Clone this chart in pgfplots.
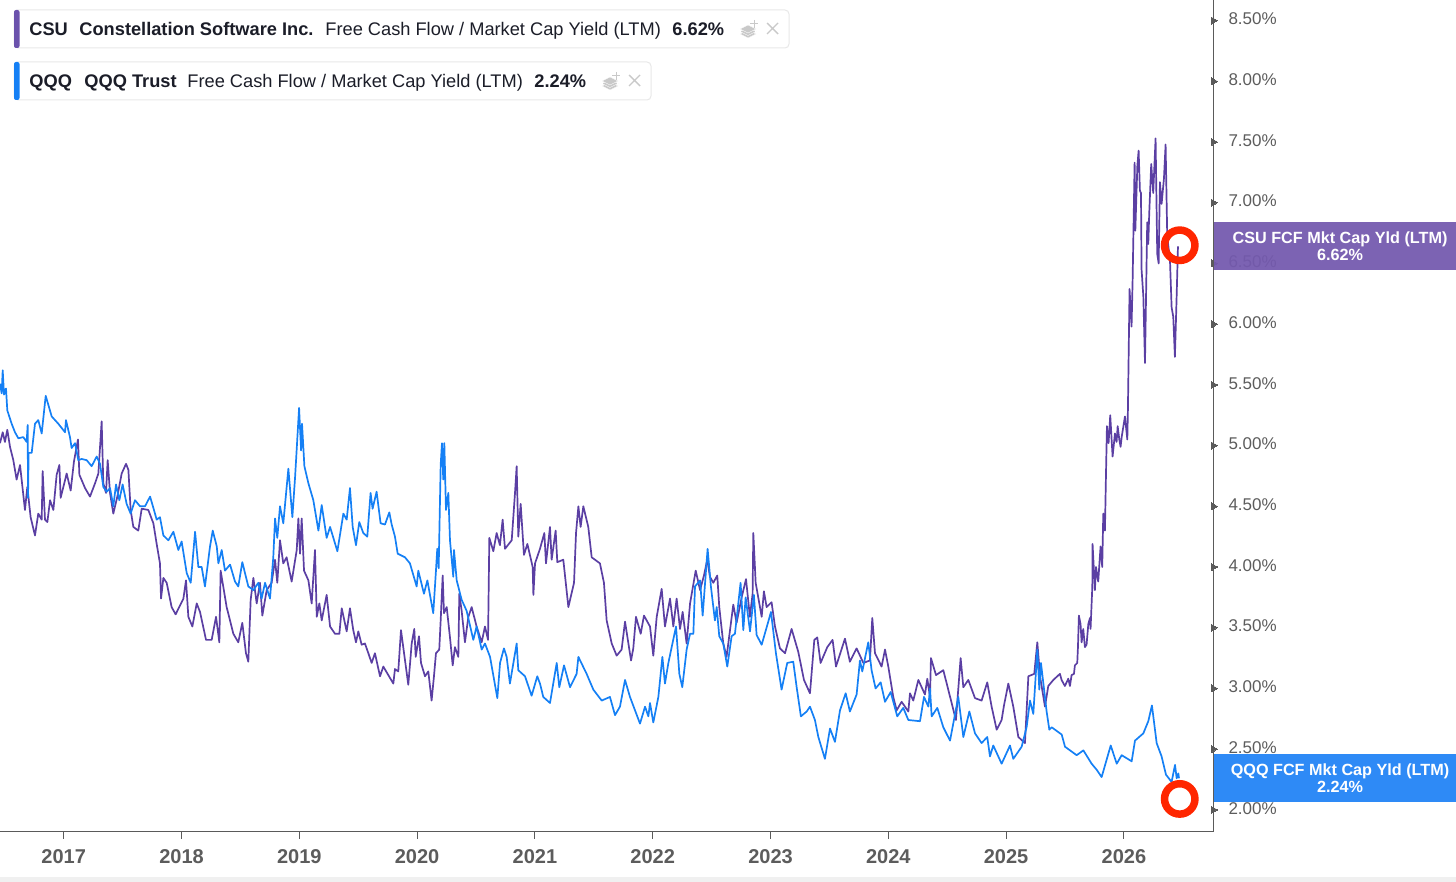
\documentclass[border=0pt]{standalone}
\usepackage{fontspec}
\setmainfont{Liberation Sans}
\usepackage{pgfplots}
\pgfplotsset{compat=1.18}
\definecolor{csuline}{HTML}{5B3FA3}
\definecolor{qqqline}{HTML}{1580F5}
\definecolor{csubox}{HTML}{7459AE}
\definecolor{qqqbox}{HTML}{2E8AF6}
\definecolor{ticktxt}{HTML}{5C5C5C}
\definecolor{axisln}{HTML}{5A5A5A}
\definecolor{ringred}{HTML}{FF2600}
\definecolor{legtxt}{HTML}{1B1D28}
\definecolor{iconc}{HTML}{C9C9C9}
\begin{document}
\begin{tikzpicture}
\useasboundingbox (0,0) rectangle (728pt,-441pt);
\begin{axis}[
    at={(0,-415.85pt)}, anchor=south west,
    scale only axis, width=606.65pt, height=415.85pt,
    xmin=2016.459, xmax=2026.759,
    ymin=1.80, ymax=8.65,
    axis x line=bottom, axis y line=right,
    axis line style={axisln, line width=0.55pt, -},
    xtick={2017,2018,2019,2020,2021,2022,2023,2024,2025,2026},
    ytick={2,2.5,3,3.5,4,4.5,5,5.5,6,6.5,7,7.5,8,8.5},
    tick align=outside,
    major tick length=3.5pt,
    x tick style={axisln, line width=0.5pt},
    y tick style={draw=none},
    /pgf/number format/assume math mode=true,
    x tick label style={/pgf/number format/1000 sep={}, font=\fontsize{10}{12}\selectfont\bfseries, text=ticktxt, yshift=-2pt},
    y tick label style={font=\fontsize{8.5}{10}\selectfont, text=ticktxt, xshift=0.6pt, yshift=-0.4pt},
    yticklabel={\pgfmathprintnumber[fixed,fixed zerofill,precision=2]{\tick}\%},
    clip mode=individual,
]
% CSU
\addplot[csuline, line width=0.85pt, line join=round] coordinates {
(2016.459,5.00)(2016.482,5.09)(2016.501,5.01)(2016.521,5.11)(2016.544,4.97)(2016.572,4.86)(2016.600,4.70)(2016.629,4.82)(2016.671,4.45)(2016.691,4.64)
(2016.719,4.39)(2016.756,4.24)(2016.784,4.42)(2016.813,4.37)(2016.821,4.77)(2016.841,4.37)(2016.861,4.35)(2016.884,4.53)(2016.912,4.45)(2016.940,4.74)
(2016.963,4.82)(2016.974,4.55)(2017.025,4.75)(2017.059,4.61)(2017.087,4.85)(2017.121,5.03)(2017.133,4.74)(2017.181,4.63)(2017.223,4.56)(2017.266,4.67)
(2017.294,4.75)(2017.322,5.18)(2017.336,4.67)(2017.359,4.59)(2017.373,4.86)(2017.393,4.59)(2017.421,4.42)(2017.455,4.56)(2017.492,4.75)(2017.529,4.83)
(2017.549,4.78)(2017.568,4.45)(2017.591,4.31)(2017.633,4.28)(2017.662,4.46)(2017.718,4.45)(2017.761,4.34)(2017.789,4.17)(2017.817,4.01)(2017.826,3.72)
(2017.846,3.89)(2017.874,3.85)(2017.916,3.65)(2017.950,3.59)(2018.016,3.72)(2018.038,3.87)(2018.058,3.57)(2018.092,3.49)(2018.129,3.68)(2018.157,3.61)
(2018.208,3.38)(2018.256,3.38)(2018.293,3.57)(2018.321,3.36)(2018.332,3.95)(2018.383,3.65)(2018.440,3.43)(2018.482,3.36)(2018.516,3.52)(2018.547,3.27)
(2018.567,3.20)(2018.587,3.71)(2018.610,3.89)(2018.638,3.68)(2018.666,3.85)(2018.686,3.58)(2018.723,3.79)(2018.765,3.85)(2018.794,4.04)(2018.813,3.85)
(2018.836,4.20)(2018.864,4.01)(2018.892,4.06)(2018.935,3.86)(2018.978,4.12)(2018.992,4.38)(2019.006,4.09)(2019.020,4.38)(2019.040,3.95)(2019.077,3.87)
(2019.105,3.68)(2019.133,4.12)(2019.148,3.57)(2019.170,3.68)(2019.190,3.54)(2019.232,3.75)(2019.261,3.49)(2019.303,3.43)(2019.340,3.43)(2019.360,3.64)
(2019.402,3.45)(2019.430,3.64)(2019.458,3.46)(2019.481,3.36)(2019.501,3.45)(2019.529,3.34)(2019.557,3.35)(2019.586,3.27)(2019.614,3.19)(2019.642,3.27)
(2019.685,3.08)(2019.713,3.16)(2019.798,3.02)(2019.812,3.14)(2019.840,3.12)(2019.863,3.46)(2019.925,3.01)(2019.954,3.35)(2019.976,3.47)(2019.988,3.24)
(2020.016,3.41)(2020.033,3.19)(2020.067,3.08)(2020.095,3.12)(2020.123,2.88)(2020.143,3.08)(2020.160,3.27)(2020.188,3.30)(2020.200,3.54)(2020.217,3.91)
(2020.228,3.60)(2020.251,3.65)(2020.279,3.40)(2020.302,3.17)(2020.321,3.32)(2020.350,3.24)(2020.358,3.76)(2020.378,3.62)(2020.406,3.36)(2020.435,3.57)
(2020.463,3.65)(2020.505,3.49)(2020.548,3.36)(2020.576,3.49)(2020.602,3.38)(2020.613,4.22)(2020.647,4.11)(2020.675,4.26)(2020.703,4.16)(2020.726,4.37)
(2020.746,4.13)(2020.803,4.20)(2020.831,4.59)(2020.845,4.81)(2020.859,4.23)(2020.879,4.50)(2020.907,4.08)(2020.936,4.17)(2020.981,3.98)(2020.987,3.75)
(2021.001,4.01)(2021.043,4.13)(2021.080,4.26)(2021.094,4.01)(2021.128,4.31)(2021.142,4.04)(2021.176,4.28)(2021.190,4.02)(2021.241,4.04)(2021.284,3.65)
(2021.332,3.85)(2021.349,4.26)(2021.369,4.48)(2021.388,4.31)(2021.411,4.48)(2021.453,4.31)(2021.482,4.06)(2021.552,4.01)(2021.586,3.85)(2021.609,3.54)
(2021.652,3.35)(2021.694,3.25)(2021.736,3.30)(2021.765,3.53)(2021.816,3.21)(2021.835,3.31)(2021.858,3.57)(2021.898,3.43)(2021.926,3.58)(2021.977,3.49)
(2022.005,3.25)(2022.034,3.57)(2022.076,3.80)(2022.104,3.49)(2022.147,3.72)(2022.175,3.49)(2022.203,3.72)(2022.232,3.47)(2022.254,3.61)(2022.288,3.35)
(2022.317,3.68)(2022.365,3.95)(2022.402,3.79)(2022.435,3.91)(2022.463,4.04)(2022.486,3.90)(2022.514,3.85)(2022.548,3.91)(2022.565,3.65)(2022.599,3.35)
(2022.627,3.24)(2022.684,3.67)(2022.712,3.52)(2022.755,3.73)(2022.792,3.88)(2022.825,3.57)(2022.848,3.76)(2022.854,4.26)(2022.874,3.85)(2022.925,3.57)
(2022.944,3.78)(2022.967,3.65)(2023.009,3.69)(2023.038,3.49)(2023.080,3.31)(2023.123,3.27)(2023.179,3.47)(2023.236,3.28)(2023.284,3.05)(2023.335,2.94)
(2023.372,3.38)(2023.397,3.40)(2023.425,3.19)(2023.482,3.32)(2023.527,3.38)(2023.556,3.16)(2023.632,3.39)(2023.674,3.20)(2023.731,3.31)(2023.788,3.19)
(2023.844,3.21)(2023.864,3.56)(2023.887,3.27)(2023.943,3.16)(2023.972,3.30)(2024.000,3.16)(2024.042,2.91)(2024.071,2.80)(2024.113,2.87)(2024.170,2.79)
(2024.184,2.94)(2024.212,2.88)(2024.255,3.05)(2024.311,2.93)(2024.331,3.06)(2024.354,2.91)(2024.362,3.23)(2024.405,3.09)(2024.467,3.13)(2024.509,2.97)
(2024.574,2.72)(2024.614,3.23)(2024.637,2.99)(2024.679,3.05)(2024.736,2.90)(2024.792,2.88)(2024.840,3.03)(2024.877,2.83)(2024.920,2.64)(2024.962,2.72)
(2024.982,2.84)(2025.019,3.02)(2025.061,2.83)(2025.104,2.58)(2025.160,2.53)(2025.189,3.08)(2025.239,3.10)(2025.265,3.36)(2025.288,3.08)(2025.330,2.83)
(2025.358,3.00)(2025.401,3.05)(2025.457,3.10)(2025.471,3.05)(2025.499,3.00)(2025.528,3.06)(2025.542,3.00)(2025.556,3.09)(2025.576,3.10)(2025.584,3.17)
(2025.604,3.19)(2025.610,3.32)(2025.618,3.58)(2025.632,3.51)(2025.641,3.36)(2025.655,3.47)(2025.669,3.32)(2025.683,3.34)(2025.698,3.51)(2025.712,3.56)
(2025.717,3.47)(2025.732,3.82)(2025.734,4.17)(2025.754,3.79)(2025.763,3.98)(2025.782,3.86)(2025.802,4.15)(2025.816,3.98)(2025.825,4.42)(2025.839,4.28)
(2025.848,4.75)(2025.856,5.14)(2025.870,5.00)(2025.884,5.23)(2025.904,4.89)(2025.924,5.08)(2025.938,5.01)(2025.947,5.14)(2025.961,5.03)(2025.972,4.97)
(2025.981,5.05)(2026.009,5.22)(2026.029,5.03)(2026.034,5.27)(2026.048,6.27)(2026.065,5.96)(2026.074,6.34)(2026.091,7.31)(2026.097,6.75)(2026.114,7.28)
(2026.125,7.41)(2026.136,7.08)(2026.145,7.06)(2026.150,6.43)(2026.165,6.21)(2026.179,5.66)(2026.198,6.82)(2026.207,6.64)(2026.215,6.89)(2026.232,7.30)
(2026.249,7.06)(2026.269,7.51)(2026.283,6.56)(2026.295,6.48)(2026.306,7.15)(2026.320,6.97)(2026.340,7.18)(2026.354,7.46)(2026.368,6.70)(2026.391,6.51)
(2026.405,6.12)(2026.419,6.04)(2026.433,5.71)(2026.448,6.22)(2026.459,6.62)
};
% QQQ
\addplot[qqqline, line width=0.85pt, line join=round] coordinates {
(2016.459,5.49)(2016.473,5.41)(2016.482,5.60)(2016.493,5.40)(2016.510,5.45)(2016.521,5.27)(2016.558,5.16)(2016.586,5.09)(2016.615,5.04)(2016.657,5.05)
(2016.685,5.01)(2016.694,5.15)(2016.697,4.55)(2016.702,4.92)(2016.728,4.92)(2016.756,5.16)(2016.784,5.19)(2016.813,5.08)(2016.847,5.39)(2016.898,5.22)
(2016.954,5.16)(2017.011,5.09)(2017.019,5.19)(2017.053,5.05)(2017.067,4.96)(2017.096,5.00)(2017.124,4.86)(2017.152,4.87)(2017.195,4.86)(2017.237,4.81)
(2017.280,4.89)(2017.308,4.83)(2017.336,4.64)(2017.365,4.60)(2017.393,4.63)(2017.421,4.48)(2017.444,4.66)(2017.472,4.53)(2017.500,4.66)(2017.534,4.50)
(2017.568,4.42)(2017.605,4.53)(2017.648,4.48)(2017.690,4.48)(2017.733,4.56)(2017.766,4.45)(2017.789,4.37)(2017.817,4.39)(2017.846,4.24)(2017.888,4.20)
(2017.931,4.27)(2017.973,4.12)(2018.001,4.19)(2018.044,3.93)(2018.078,3.85)(2018.115,4.27)(2018.143,3.98)(2018.171,3.98)(2018.199,3.82)(2018.242,4.15)
(2018.265,4.28)(2018.299,4.15)(2018.313,4.01)(2018.341,4.12)(2018.369,3.95)(2018.412,4.00)(2018.454,3.86)(2018.482,3.82)(2018.516,4.02)(2018.567,3.82)
(2018.610,3.79)(2018.652,3.85)(2018.680,3.72)(2018.709,3.85)(2018.751,3.72)(2018.779,4.06)(2018.794,4.38)(2018.813,4.22)(2018.836,4.48)(2018.864,4.34)
(2018.907,4.79)(2018.941,4.39)(2018.964,4.72)(2018.998,5.29)(2019.015,4.94)(2019.023,5.16)(2019.043,4.81)(2019.077,4.67)(2019.119,4.53)(2019.162,4.28)
(2019.190,4.49)(2019.232,4.22)(2019.261,4.31)(2019.323,4.11)(2019.374,4.42)(2019.402,4.37)(2019.430,4.63)(2019.453,4.31)(2019.481,4.16)(2019.509,4.35)
(2019.543,4.26)(2019.577,4.23)(2019.605,4.59)(2019.622,4.46)(2019.656,4.60)(2019.690,4.34)(2019.727,4.33)(2019.764,4.43)(2019.784,4.33)(2019.812,4.23)
(2019.835,4.09)(2019.897,4.06)(2019.939,4.01)(2019.996,3.82)(2020.010,3.95)(2020.058,3.76)(2020.087,3.87)(2020.137,3.60)(2020.160,3.95)(2020.171,4.13)
(2020.183,3.97)(2020.200,4.82)(2020.211,5.00)(2020.222,4.70)(2020.231,5.00)(2020.245,4.45)(2020.265,4.59)(2020.279,4.20)(2020.307,3.90)(2020.313,4.12)
(2020.336,3.87)(2020.378,3.71)(2020.420,3.62)(2020.477,3.38)(2020.505,3.49)(2020.548,3.30)(2020.576,3.35)(2020.619,3.24)(2020.681,2.90)(2020.704,3.19)
(2020.737,3.31)(2020.760,3.24)(2020.788,3.02)(2020.845,3.35)(2020.859,3.13)(2020.916,3.08)(2020.972,2.92)(2021.020,3.08)(2021.043,3.02)(2021.071,2.91)
(2021.128,2.86)(2021.185,3.19)(2021.207,2.99)(2021.247,3.17)(2021.298,2.99)(2021.354,3.10)(2021.369,3.24)(2021.439,3.10)(2021.496,2.97)(2021.567,2.88)
(2021.637,2.91)(2021.680,2.76)(2021.722,2.83)(2021.765,3.05)(2021.807,2.91)(2021.892,2.69)(2021.935,2.83)(2021.963,2.75)(2021.977,2.86)(2022.005,2.70)
(2022.048,2.91)(2022.082,3.24)(2022.104,3.02)(2022.133,3.19)(2022.161,3.32)(2022.198,3.49)(2022.226,3.10)(2022.251,2.99)(2022.288,3.30)(2022.317,3.43)
(2022.345,3.43)(2022.359,3.82)(2022.402,3.87)(2022.424,3.58)(2022.466,4.13)(2022.494,3.82)(2022.528,3.54)(2022.543,3.65)(2022.565,3.41)(2022.599,3.35)
(2022.633,3.16)(2022.670,3.41)(2022.698,3.43)(2022.746,3.85)(2022.769,3.46)(2022.789,3.73)(2022.826,3.45)(2022.859,3.75)(2022.882,3.42)(2022.925,3.34)
(2022.981,3.53)(2023.004,3.61)(2023.046,3.27)(2023.094,2.97)(2023.142,3.19)(2023.193,3.20)(2023.222,2.99)(2023.258,2.75)(2023.307,2.79)(2023.335,2.83)
(2023.377,2.72)(2023.406,2.58)(2023.462,2.40)(2023.505,2.65)(2023.547,2.54)(2023.590,2.80)(2023.638,2.94)(2023.674,2.79)(2023.731,2.93)(2023.759,3.21)
(2023.779,3.12)(2023.830,3.36)(2023.858,3.13)(2023.892,2.98)(2023.935,3.03)(2023.972,2.87)(2024.020,2.95)(2024.076,2.75)(2024.127,2.82)(2024.170,2.72)
(2024.269,2.71)(2024.303,2.91)(2024.340,2.83)(2024.354,2.98)(2024.368,2.75)(2024.416,2.82)(2024.467,2.66)(2024.524,2.55)(2024.594,2.91)(2024.637,2.58)
(2024.688,2.79)(2024.736,2.61)(2024.792,2.53)(2024.840,2.58)(2024.863,2.42)(2024.891,2.51)(2024.962,2.36)(2025.033,2.51)(2025.061,2.40)(2025.132,2.50)
(2025.174,2.66)(2025.203,2.88)(2025.231,2.77)(2025.265,3.30)(2025.282,2.97)(2025.296,3.19)(2025.344,2.79)(2025.367,2.64)(2025.387,2.66)(2025.472,2.60)
(2025.500,2.50)(2025.599,2.43)(2025.656,2.47)(2025.726,2.36)(2025.769,2.31)(2025.811,2.25)(2025.888,2.51)(2025.939,2.36)(2025.981,2.43)(2026.066,2.38)
(2026.094,2.55)(2026.165,2.61)(2026.207,2.71)(2026.238,2.84)(2026.278,2.53)(2026.320,2.42)(2026.357,2.27)(2026.405,2.21)(2026.434,2.35)(2026.448,2.24)
(2026.462,2.28)(2026.468,2.24)
};
% ticks on the right side
\addplot[only marks, mark=triangle*, mark size=2pt, color=axisln,
    mark options={rotate=-90, xshift=1.2pt, line width=0pt}] coordinates {
(2026.759,2)(2026.759,2.5)(2026.759,3)(2026.759,3.5)(2026.759,4)(2026.759,4.5)(2026.759,5)
(2026.759,5.5)(2026.759,6)(2026.759,6.5)(2026.759,7)(2026.759,7.5)(2026.759,8)(2026.759,8.5)
};
% last-value rings
\addplot[only marks, mark=o, mark size=7.6pt, mark options={draw=ringred, line width=3.75pt}] coordinates {
(2026.474,6.63)(2026.474,2.07)
};
\end{axis}
\begin{scope}[x=0.5pt, y=-0.5pt]
% bottom band
\fill[black!6] (0,877) rectangle (1456,882);
% value tags
\fill[csubox, opacity=0.94] (1213.5,222) rectangle (1456,270.5);
\fill[qqqbox] (1213.5,754) rectangle (1456,802);
\node[white, font=\fontsize{8.1}{8.6}\selectfont\bfseries, align=center] at (1340,246.5) {CSU FCF Mkt Cap Yld (LTM)\\6.62\%};
\node[white, font=\fontsize{8.1}{8.6}\selectfont\bfseries, align=center] at (1340,778.5) {QQQ FCF Mkt Cap Yld (LTM)\\2.24\%};
% legend boxes
\draw[black!9, fill=white, line width=0.5pt, rounded corners=2pt] (14,10) rectangle (789,48);
\fill[csuline!90!white, rounded corners=1pt] (14,10) rectangle (19.5,48);
\draw[black!9, fill=white, line width=0.5pt, rounded corners=2pt] (14,62) rectangle (651,100);
\fill[qqqline, rounded corners=1pt] (14,62) rectangle (19.5,100);
\tikzset{leg/.style={anchor=base west, inner sep=0pt, text=legtxt, font=\fontsize{9.12}{11}\selectfont}, legb/.style={leg, font=\fontsize{9.12}{11}\selectfont\bfseries}}
\node[legb] at (29,36) {CSU};
\node[legb] at (79,36) {Constellation Software Inc.};
\node[leg] at (325,36) {Free Cash Flow / Market Cap Yield (LTM)};
\node[legb] at (672,36) {6.62\%};
\node[legb] at (29,88) {QQQ};
\node[legb] at (84,88) {QQQ Trust};
\node[leg] at (187,88) {Free Cash Flow / Market Cap Yield (LTM)};
\node[legb] at (534,88) {2.24\%};
% stack icons and close crosses
\foreach \ix/\iy in {748/29, 610/81} {
  \foreach \dy in {5,2.5,0} {
    \filldraw[iconc, draw=white, line width=0.2pt] (\ix-8,\iy+\dy) -- (\ix,\iy-4+\dy) -- (\ix+8,\iy+\dy) -- (\ix,\iy+4+\dy) -- cycle;
  }
  \draw[iconc, line width=0.5pt] (\ix+6,\iy-9) -- (\ix+6,\iy-1) (\ix+2,\iy-5) -- (\ix+10,\iy-5);
}
\draw[iconc, line width=0.7pt] (767,23) -- (778,34) (767,34) -- (778,23);
\draw[iconc, line width=0.7pt] (629,75) -- (640,86) (629,86) -- (640,75);
\end{scope}
\end{tikzpicture}
\end{document}
